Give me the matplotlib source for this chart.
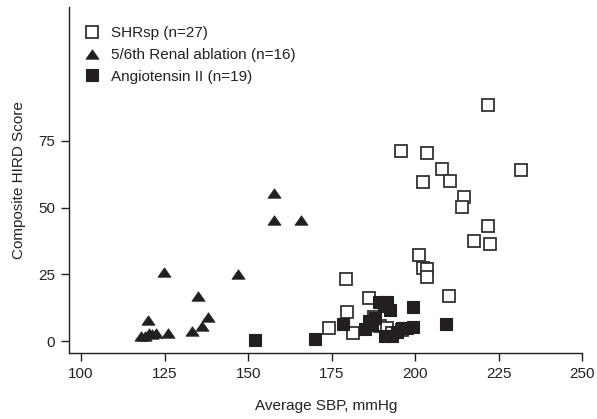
import matplotlib
matplotlib.use("Agg")
import matplotlib.pyplot as plt

# --- data -------------------------------------------------------------
shrsp_sbp = [221.8, 195.6, 203.6, 207.9, 231.5, 202.2, 210.4, 214.6, 214.1,
             221.8, 217.6, 222.3, 201.2, 202.4, 203.4, 203.4, 210.0, 179.2,
             186.0, 179.6, 174.2, 181.5, 187.5, 189.5, 191.5, 193.0, 196.0]
shrsp_hird = [88.5, 71.2, 70.5, 64.5, 64.1, 59.5, 60.1, 54.1, 50.1,
              43.2, 37.5, 36.5, 32.2, 27.2, 27.0, 24.1, 16.9, 23.2,
              16.0, 11.0, 5.0, 2.9, 9.0, 5.5, 5.0, 3.0, 4.0]

renal_sbp = [157.8, 157.8, 165.8, 124.9, 146.9, 135.0, 120.1, 138.1,
             136.1, 133.1, 126.0, 117.8, 119.0, 120.3, 121.2, 122.4]
renal_hird = [55.6, 45.4, 45.4, 26.0, 25.0, 16.9, 7.9, 9.1,
              5.8, 3.9, 2.9, 1.8, 2.0, 3.0, 2.5, 3.0]

angii_sbp = [152.0, 170.1, 178.4, 199.2, 209.1, 199.4, 185.0, 186.0, 188.0,
             189.0, 191.5, 192.5, 190.5, 191.0, 193.0, 194.5, 196.0, 197.5, 187.0]
angii_hird = [0.5, 0.8, 6.4, 12.9, 6.4, 5.4, 4.5, 7.5, 8.5,
              14.5, 14.5, 11.5, 13.0, 2.0, 2.0, 3.5, 5.0, 5.0, 6.0]

labels = ["SHRsp (n=27)", "5/6th Renal ablation (n=16)", "Angiotensin II (n=19)"]
x_ticks = [100, 125, 150, 175, 200, 225, 250]
y_ticks = [0, 25, 50, 75]

# --- style ------------------------------------------------------------
ink = "#231f20"
plt.rcParams["font.family"] = ["Liberation Sans", "DejaVu Sans"]
plt.rcParams["font.size"] = 11

fig = plt.figure(figsize=(5.97, 4.19), dpi=100)
ax = fig.add_axes([0.1156, 0.1575, 0.860, 0.8258])

# flattened triangle marker
tri = [(0, 0.72), (-1, -0.72), (1, -0.72), (0, 0.72)]

ax.plot(shrsp_sbp, shrsp_hird, ls="none", marker="s", ms=9.0,
        mfc="white", mec="#333333", mew=1.3, label=labels[0], zorder=3)
ax.plot(renal_sbp, renal_hird, ls="none", marker=tri, ms=9.5,
        mfc=ink, mec=ink, mew=0.5, label=labels[1], zorder=3)
ax.plot(angii_sbp, angii_hird, ls="none", marker="s", ms=9.0,
        mfc=ink, mec=ink, mew=0.8, label=labels[2], zorder=4)

ax.set_xlim(96.4, 250)
ax.set_ylim(-4.5, 125.2)
ax.set_xticks(x_ticks)
ax.set_yticks(y_ticks)

for side in ("top", "right"):
    ax.spines[side].set_visible(False)
for side in ("left", "bottom"):
    ax.spines[side].set_color(ink)
    ax.spines[side].set_linewidth(1.0)

ax.tick_params(direction="out", length=6, width=1.0, color=ink,
               labelcolor="#222222", labelsize=11, pad=4)

ax.set_xlabel("Average SBP, mmHg", fontsize=11, color="#222222", labelpad=13)
ax.set_ylabel("Composite HIRD Score", fontsize=11, color="#222222", labelpad=9)

leg = ax.legend(loc="upper left", bbox_to_anchor=(0.018, 0.962), frameon=False,
                handlelength=1.0, handletextpad=0.75, labelspacing=0.5,
                borderaxespad=0.0, fontsize=11, numpoints=1)
for t in leg.get_texts():
    t.set_color("#222222")

fig.savefig("out.png", dpi=100)
